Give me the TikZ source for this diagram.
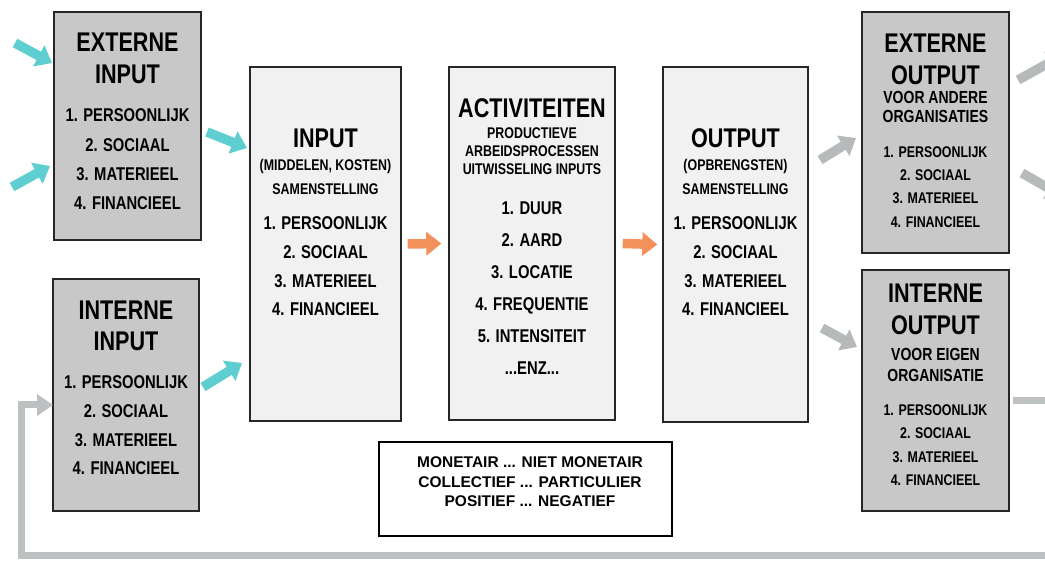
\documentclass[tikz,border=0pt]{standalone}
\usepackage{fontspec}
\setmainfont{Liberation Sans}
\newfontfamily\nar[FakeStretch=0.8]{Liberation Sans}
\usetikzlibrary{arrows.meta}
\definecolor{boxdark}{RGB}{200,200,200}
\definecolor{boxlight}{RGB}{241,241,241}
\definecolor{cyanarr}{RGB}{94,206,208}
\definecolor{orarr}{RGB}{242,145,92}
\definecolor{grarr}{RGB}{182,186,186}
\definecolor{fbline}{RGB}{190,193,193}
\begin{document}
\begin{tikzpicture}[x=1pt,y=-1pt,
  dbox/.style={draw=black!85,line width=1.4pt,fill=boxdark,inner sep=0pt},
  lbox/.style={draw=black!85,line width=1.4pt,fill=boxlight,inner sep=0pt},
  wbox/.style={draw=black,line width=1.4pt,fill=white,inner sep=0pt},
  tt/.style={font=\nar\bfseries\fontsize{27pt}{27pt}\selectfont,inner sep=0pt,text height=19.3pt,text depth=0pt},
  st/.style={font=\nar\bfseries\fontsize{15.5pt}{15.5pt}\selectfont,inner sep=0pt,text height=11.1pt,text depth=0pt},
  sm/.style={font=\nar\bfseries\fontsize{17.5pt}{17.5pt}\selectfont,inner sep=0pt,text height=12.5pt,text depth=0pt},
  li/.style={font=\nar\bfseries\fontsize{18.5pt}{18.5pt}\selectfont,inner sep=0pt,text height=13.2pt,text depth=0pt},
  bt/.style={font=\bfseries\fontsize{15.5pt}{15.5pt}\selectfont,inner sep=0pt,text height=11.1pt,text depth=0pt},
  carrow/.style={draw=cyanarr,line width=9.5pt,-{Triangle[length=15pt,width=23pt]}},
  oarrow/.style={draw=orarr,line width=9.5pt,-{Triangle[length=15pt,width=23pt]}},
  garrow/.style={draw=grarr,line width=9.5pt,-{Triangle[length=15pt,width=23pt]}},
  fbarrow/.style={draw=fbline,line width=7pt,-{Triangle[length=16pt,width=21pt]}}]
\useasboundingbox (0,0) rectangle (1045,561);
\clip (0,0) rectangle (1045,561);
\fill[white] (0,0) rectangle (1045,561);

% boxes
\node[dbox,minimum width=147pt,minimum height=228pt] (extin) at (127.5,126) {};
\node[dbox,minimum width=146pt,minimum height=232pt] (intin) at (126,395) {};
\node[lbox,minimum width=151pt,minimum height=354pt] (input) at (325.5,244) {};
\node[lbox,minimum width=166pt,minimum height=353pt] (act) at (532,243.5) {};
\node[lbox,minimum width=145pt,minimum height=355pt] (output) at (735.5,244.5) {};
\node[dbox,minimum width=147pt,minimum height=241pt] (extout) at (935.5,132.5) {};
\node[dbox,minimum width=147pt,minimum height=241pt] (intout) at (935.5,390.5) {};
\node[wbox,minimum width=293pt,minimum height=94pt] (note) at (525.5,489) {};

% externe input
\node[tt] (ei1) at (127.5,42) {EXTERNE};
\node[tt] (ei2) at (127.5,74) {INPUT};
\node[li] (ei3) at (127.5,115) {1. PERSOONLIJK};
\node[li] (ei4) at (127.5,145) {2. SOCIAAL};
\node[li] (ei5) at (127.5,174) {3. MATERIEEL};
\node[li] (ei6) at (127.5,203) {4. FINANCIEEL};

% interne input
\node[tt] (ii1) at (126,310) {INTERNE};
\node[tt] (ii2) at (126,341) {INPUT};
\node[li] (ii3) at (126,382) {1. PERSOONLIJK};
\node[li] (ii4) at (126,411) {2. SOCIAAL};
\node[li] (ii5) at (126,440) {3. MATERIEEL};
\node[li] (ii6) at (126,468) {4. FINANCIEEL};

% input
\node[tt] (in1) at (325.5,138) {INPUT};
\node[st] (in2) at (325.5,165) {(MIDDELEN, KOSTEN)};
\node[st] (in3) at (325.5,189) {SAMENSTELLING};
\node[li] (in4) at (325.5,223) {1. PERSOONLIJK};
\node[li] (in5) at (325.5,252) {2. SOCIAAL};
\node[li] (in6) at (325.5,281) {3. MATERIEEL};
\node[li] (in7) at (325.5,309) {4. FINANCIEEL};

% activiteiten
\node[tt] (ac1) at (532,108) {ACTIVITEITEN};
\node[st] (ac2) at (532,133) {PRODUCTIEVE};
\node[st] (ac3) at (532,151) {ARBEIDSPROCESSEN};
\node[st] (ac4) at (532,169) {UITWISSELING INPUTS};
\node[li] (ac5) at (532,208) {1. DUUR};
\node[li] (ac6) at (532,240) {2. AARD};
\node[li] (ac7) at (532,272) {3. LOCATIE};
\node[li] (ac8) at (532,304) {4. FREQUENTIE};
\node[li] (ac9) at (532,336) {5. INTENSITEIT};
\node[li] (ac10) at (532,368) {...ENZ...};

% output
\node[tt] (ou1) at (735.5,138) {OUTPUT};
\node[st] (ou2) at (735.5,165) {(OPBRENGSTEN)};
\node[st] (ou3) at (735.5,189) {SAMENSTELLING};
\node[li] (ou4) at (735.5,223) {1. PERSOONLIJK};
\node[li] (ou5) at (735.5,252) {2. SOCIAAL};
\node[li] (ou6) at (735.5,281) {3. MATERIEEL};
\node[li] (ou7) at (735.5,309) {4. FINANCIEEL};

% externe output
\node[tt] (eo1) at (935.5,43) {EXTERNE};
\node[tt] (eo2) at (935.5,75) {OUTPUT};
\node[sm] (eo3) at (935.5,97.5) {VOOR ANDERE};
\node[sm] (eo4) at (935.5,116) {ORGANISATIES};
\node[st] (eo5) at (935.5,152) {1. PERSOONLIJK};
\node[st] (eo6) at (935.5,175) {2. SOCIAAL};
\node[st] (eo7) at (935.5,198) {3. MATERIEEL};
\node[st] (eo8) at (935.5,222) {4. FINANCIEEL};

% interne output
\node[tt] (io1) at (935.5,293) {INTERNE};
\node[tt] (io2) at (935.5,325) {OUTPUT};
\node[sm] (io3) at (935.5,354) {VOOR EIGEN};
\node[sm] (io4) at (935.5,375) {ORGANISATIE};
\node[st] (io5) at (935.5,410) {1. PERSOONLIJK};
\node[st] (io6) at (935.5,433) {2. SOCIAAL};
\node[st] (io7) at (935.5,457) {3. MATERIEEL};
\node[st] (io8) at (935.5,480) {4. FINANCIEEL};

% note box
\node[bt] (m1) at (530,462) {MONETAIR ... NIET MONETAIR};
\node[bt] (m2) at (530,481.5) {COLLECTIEF ... PARTICULIER};
\node[bt] (m3) at (530,501) {POSITIEF ... NEGATIEF};

% arrow end points
\coordinate (c1s) at (15,43);   \coordinate (c1e) at (52,63);
\coordinate (c2s) at (12,187);  \coordinate (c2e) at (50,166);
\coordinate (c3s) at (207,132); \coordinate (c3e) at (247,148);
\coordinate (c4s) at (203,387); \coordinate (c4e) at (242,363);
\coordinate (g1s) at (820,160); \coordinate (g1e) at (856,138);
\coordinate (g2s) at (822,328); \coordinate (g2e) at (857,347);
\coordinate (g3s) at (1018,80); \coordinate (g3e) at (1063,55);
\coordinate (g4s) at (1022,173);\coordinate (g4e) at (1062,196);
\coordinate (fbs) at (1013,401);
\coordinate (fbr) at (1080,401);
\coordinate (fbb) at (1080,555);
\coordinate (fbl) at (21,555);
\coordinate (fbu) at (21,405);
\coordinate (fbe) at (53,405);

% cyan arrows
\draw[carrow] (c1s) -- (c1e);
\draw[carrow] (c2s) -- (c2e);
\draw[carrow] (c3s) -- (c3e);
\draw[carrow] (c4s) -- (c4e);
% orange arrows
\draw[oarrow] ([xshift=6pt]input.east) -- ([xshift=-7pt]act.west);
\draw[oarrow] ([xshift=7pt]act.east) -- ([xshift=-5pt]output.west);
% gray arrows
\draw[garrow] (g1s) -- (g1e);
\draw[garrow] (g2s) -- (g2e);
\draw[garrow] (g3s) -- (g3e);
\draw[garrow] (g4s) -- (g4e);
% feedback loop
\draw[fbarrow] (fbs) -- (fbr) -- (fbb) -- (fbl) -- (fbu) -- (fbe);
\end{tikzpicture}
\end{document}
